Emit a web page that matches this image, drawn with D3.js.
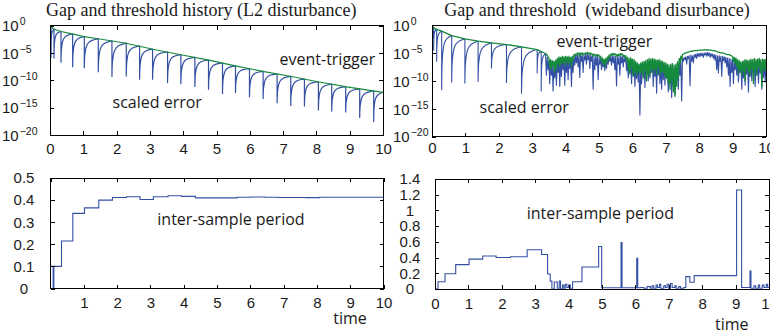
<!DOCTYPE html>
<html><head><meta charset="utf-8">
<script src="https://cdn.jsdelivr.net/npm/d3@7"></script>
<style>
body{margin:0;background:#fff;}
svg{display:block;}
.tk text{font-family:"Liberation Sans",Arial,sans-serif;font-size:15px;fill:#1a1a1a;}
.ann{font-family:"Open Sans",sans-serif;font-size:16px;fill:#1a1a1a;}
.ttl{font-family:"Liberation Serif","Times New Roman",serif;font-size:18px;fill:#1a1a1a;white-space:pre;}
</style></head><body>
<svg id="c" width="770" height="335"></svg>
<script>
// ---------------- DATA ----------------
const xTicks = [0,1,2,3,4,5,6,7,8,9,10];
const xTicksBL = [1,2,3,4,5,6,7,8,9,10];
const logTicks = [1,1e-5,1e-10,1e-15,1e-20];
const blYTicks = [0,0.1,0.2,0.3,0.4,0.5];
const brYTicks = [0,0.2,0.4,0.6,0.8,1,1.2,1.4];

// top-left: threshold (time, log10 value)
const tlThreshold = [[0,0.0],[0.1,-0.6],[0.33,-1.05],[0.67,-1.5],[1.02,-2.0],[1.45,-2.4],[2.28,-3.2],[3.09,-4.3],[3.93,-5.3],[4.77,-6.3],[5.6,-7.4],[6.43,-8.4],[7.25,-9.3],[8.08,-10.3],[8.91,-11.2],[10,-12.2]];
// top-left: event times and scaled error minimum (log10) right after each event
const tlEvents = [0.03,0.12,0.33,0.68,1.03,1.45,1.86,2.29,2.69,3.08,3.53,3.93,4.35,4.76,5.18,5.57,5.99,6.4,6.82,7.23,7.64,8.06,8.46,8.88,9.3,9.72];
const tlMins   = [-5.9,-6.0,-6.8,-7.6,-7.8,-8.5,-9.4,-9.3,-9.9,-9.9,-10.5,-10.7,-11.2,-11.7,-12.5,-12.3,-13.1,-13.4,-14.2,-14.7,-14.8,-15.5,-15.7,-15.9,-16.9,-17.6];
// tooth profile: [fraction of interval, fraction of depth]
const toothProfile = [[0,1],[0.01,0.78],[0.03,0.6],[0.07,0.46],[0.12,0.34],[0.2,0.24],[0.3,0.17],[0.42,0.12],[0.55,0.08],[0.7,0.05],[0.85,0.02],[1,0]];

// top-right, first phase (regular events)
const trThreshold = [[0,-0.2],[0.1,-0.7],[0.29,-1.1],[0.59,-1.9],[0.985,-2.5],[1.38,-2.9],[1.78,-3.2],[2.23,-3.5],[2.68,-3.9],[3.15,-4.4],[3.4,-5.1]];
const trEvents = [0.02,0.05,0.14,0.29,0.59,0.985,1.38,1.78,2.23,2.68,3.15,3.27];
const trMins   = [-2.5,-4.5,-6.5,-11.6,-10.2,-10.4,-10.1,-7.7,-10.3,-12.2,-8.6,-11.8];
const trPhase1End = 3.4;
// top-right, wideband part: bins of 0.05 from t=3.40, each with high and low reading (log10)
const trBinStart = 3.4, trBinStep = 0.05;
const trGreenHi = [-5.1,-5.4,-5.9,-6.2,-6.4,-6.5,-6.3,-6.0,-5.7,-5.8,-5.6,-5.7,-5.6,-5.7,-5.6,-5.8,-5.6,-5.3,-5.2,-5.0,-5.0,-5.0,-5.0,-5.1,-5.0,-4.9,-5.0,-5.0,-5.2,-5.2,-5.3,-5.3,-5.4,-5.6,-5.9,-6.1,-6.0,-5.7,-5.4,-5.2,-5.1,-5.1,-5.2,-5.3,-5.2,-5.1,-5.2,-5.4,-5.5,-5.8,-6.0,-5.9,-6.1,-6.2,-6.5,-6.8,-7.0,-6.8,-6.6,-6.5,-6.4,-6.2,-6.0,-6.1,-6.0,-6.1,-6.2,-6.3,-6.2,-6.4,-6.5,-6.7,-6.8,-7.0,-7.2,-7.0,-6.9,-7.2,-7.0,-6.6,-6.0,-5.6,-5.3,-5.1,-5.0,-4.9,-4.8,-4.7,-4.7,-4.6,-4.6,-4.6,-4.5,-4.5,-4.5,-4.4,-4.5,-4.4,-4.5,-4.5,-4.6,-4.6,-4.7,-4.8,-4.9,-5.0,-5.0,-5.1,-5.2,-5.3,-5.3,-5.5,-5.6,-5.8,-5.9,-6.2,-6.4,-6.6,-6.5,-6.3,-6.2,-6.4,-6.3,-6.1,-6.2,-6.0,-6.2,-6.1,-6.0,-6.2,-6.1,-6.2,-6.1];
const trGreenLo = [-5.3,-5.7,-7.5,-8.0,-7.2,-8.5,-7.8,-7.0,-7.5,-6.8,-6.8,-7.2,-6.5,-7.0,-6.6,-7.4,-6.4,-5.6,-5.4,-5.2,-5.6,-5.2,-5.3,-5.2,-5.2,-5.1,-5.3,-5.2,-5.6,-5.4,-5.6,-5.5,-5.8,-6.5,-7.0,-7.3,-6.8,-6.3,-5.7,-5.4,-5.4,-5.3,-5.6,-5.5,-5.5,-5.3,-5.6,-5.8,-6.4,-8.0,-8.8,-7.5,-9.2,-8.5,-9.0,-8.2,-8.8,-8.5,-9.5,-8.0,-10.0,-8.8,-9.0,-7.8,-8.5,-8.0,-8.8,-7.5,-9.0,-8.3,-8.6,-9.2,-9.5,-10.5,-11.5,-10.0,-12.0,-12.8,-11.0,-9.5,-7.0,-6.2,-5.2,-5.05,-4.95,-4.85,-4.75,-4.7,-4.65,-4.6,-4.6,-4.55,-4.5,-4.5,-4.45,-4.45,-4.45,-4.45,-4.5,-4.55,-4.6,-4.65,-4.75,-4.85,-4.95,-5.0,-5.05,-5.15,-5.25,-5.3,-5.4,-5.55,-6.5,-7.0,-7.5,-8.5,-8.0,-9.0,-8.2,-10.0,-7.6,-8.5,-9.0,-7.8,-10.5,-8.0,-8.9,-7.5,-8.2,-11.0,-7.8,-8.3,-8.0];
const trBlueHi = [-5.5,-5.8,-6.4,-6.6,-6.9,-7.0,-6.7,-6.5,-6.1,-6.3,-6.0,-6.2,-6.0,-6.1,-6.0,-6.3,-6.0,-5.7,-5.5,-5.3,-5.4,-5.3,-5.4,-5.4,-5.3,-5.2,-5.3,-5.4,-5.5,-5.6,-5.7,-5.6,-5.8,-6.0,-6.3,-6.5,-6.4,-6.1,-5.8,-5.6,-5.5,-5.5,-5.6,-5.7,-5.6,-5.5,-5.6,-5.8,-5.9,-6.3,-6.5,-6.4,-6.6,-6.7,-7.0,-7.3,-7.5,-7.3,-7.1,-7.0,-6.9,-6.7,-6.5,-6.6,-6.5,-6.6,-6.7,-6.8,-6.7,-6.9,-7.0,-7.2,-7.3,-7.6,-7.8,-7.6,-7.5,-7.8,-7.6,-7.2,-6.8,-6.4,-6.0,-5.8,-5.7,-5.6,-5.5,-5.4,-5.5,-5.3,-5.2,-5.1,-5.1,-5.0,-5.1,-5.0,-5.0,-4.9,-5.0,-5.1,-5.2,-5.3,-5.4,-5.5,-5.5,-5.6,-5.6,-5.7,-5.8,-5.9,-6.0,-6.1,-6.2,-6.4,-6.5,-6.8,-7.0,-7.2,-7.0,-6.8,-6.8,-7.0,-6.9,-6.7,-6.8,-6.6,-6.8,-6.7,-6.6,-6.8,-6.7,-6.8,-6.7];
const trBlueLo = [-9.0,-8.0,-10.5,-9.0,-11.8,-9.5,-10.8,-8.5,-11.0,-9.2,-8.0,-10.8,-8.5,-9.8,-7.8,-11.0,-8.5,-7.2,-6.8,-7.5,-9.4,-6.5,-8.5,-6.3,-7.0,-6.2,-7.8,-6.5,-11.5,-8.0,-7.2,-9.8,-7.0,-8.0,-7.5,-8.2,-7.8,-7.0,-6.5,-7.2,-6.8,-8.0,-10.9,-7.0,-9.0,-6.8,-7.5,-6.6,-8.2,-9.5,-8.5,-10.5,-9.0,-11.0,-9.6,-10.2,-16.1,-10.5,-9.0,-11.2,-8.8,-10.0,-9.5,-8.5,-11.0,-9.2,-12.2,-9.0,-10.5,-11.5,-9.8,-10.8,-9.5,-12.0,-10.5,-13.0,-11.0,-12.5,-10.0,-11.5,-9.0,-13.6,-6.5,-6.2,-7.0,-6.0,-10.9,-6.5,-6.8,-5.8,-6.0,-5.6,-5.7,-5.5,-5.8,-5.4,-5.6,-5.5,-5.8,-5.6,-6.0,-6.3,-8.0,-8.6,-6.5,-9.2,-6.4,-6.8,-7.5,-9.0,-11.0,-8.5,-10.5,-8.0,-9.0,-10.2,-8.5,-11.5,-9.5,-10.8,-8.8,-12.0,-9.2,-10.0,-8.5,-11.0,-9.0,-10.4,-8.6,-11.5,-9.4,-10.2,-8.8];

// bottom-left inter-sample period (value held from time[i] to time[i+1])
const blTimes  = [0,0.08,0.1,0.33,0.67,1.02,1.45,1.86,2.28,2.69,3.09,3.53,3.93,4.35,4.77,5.18,5.6,6.01,6.43,6.84,7.25,7.67,8.08,8.5,8.91,9.32,9.74,10];
const blValues = [0.1,0,0.1,0.215,0.34,0.365,0.40,0.412,0.415,0.403,0.415,0.42,0.417,0.41,0.41,0.41,0.413,0.414,0.413,0.412,0.412,0.411,0.413,0.413,0.413,0.413,0.413,0.413];
// bottom-right inter-sample period
const brTimes  = [0,0.09,0.3,0.62,1.02,1.43,1.83,2.26,2.76,3.19,3.37,3.45,3.5,3.57,3.66,3.72,3.76,3.82,3.86,3.9,3.95,4.0,4.05,4.12,4.4,4.9,4.99,5.57,5.6,6.04,6.07,6.15,6.25,6.35,6.45,6.5,6.55,6.62,6.66,6.72,6.76,6.85,6.9,6.95,7.0,7.05,7.1,7.18,7.22,7.3,7.35,7.45,7.51,7.63,7.76,9.03,9.18,9.43,9.46,9.55,9.6,9.68,9.72,9.8,9.85,9.92,9.96,10];
const brValues = [0,0.093,0.195,0.31,0.38,0.42,0.40,0.41,0.50,0.44,0.19,0.10,0.0,0.09,0.01,0.10,0.0,0.05,0.01,0.06,0.02,0.05,0.01,0.093,0.28,0.54,0.015,0.59,0.015,0.39,0.015,0.02,0.01,0.03,0.01,0.04,0.01,0.05,0.02,0.06,0.01,0.04,0.02,0.06,0.01,0.07,0.02,0.04,0.01,0.03,0.01,0.02,0.157,0.085,0.17,1.26,0.02,0.23,0.01,0.04,0.01,0.05,0.01,0.05,0.02,0.06,0.02,0.02];

const titleL = "Gap and threshold history (L2 disturbance)";
const titleR = "Gap and threshold  (wideband disurbance)";

// ---------------- DRAWING ----------------
const BLUE = "#3350a4", GREEN = "#168a3c";
const svg = d3.select("#c");

const tlX = d3.scaleLinear().domain([0,10]).range([50,383]);
const tlY = d3.scaleLog().domain([1e-20,1]).range([135,25.7]);
const trX = d3.scaleLinear().domain([0,10]).range([432,766]);
const trY = d3.scaleLog().domain([1e-20,1]).range([136.7,25]);
const blX = d3.scaleLinear().domain([0,10]).range([50.5,383.5]);
const blY = d3.scaleLinear().domain([0,0.5]).range([288.5,178]);
const brX = d3.scaleLinear().domain([0,10]).range([435,769]);
const brY = d3.scaleLinear().domain([0,1.4]).range([289,179]);

let clipId = 0;
function panel(x, y){
  const [x0,x1] = x.range(), [y0,y1] = y.range();
  const id = "clip"+(clipId++);
  svg.append("clipPath").attr("id",id).append("rect")
    .attr("x",x0).attr("y",y1).attr("width",x1-x0).attr("height",y0-y1);
  return svg.append("g").attr("clip-path",`url(#${id})`);
}
function frame(x, y, opts){
  const [x0,x1] = x.range(), [y0,y1] = y.range();
  const g = svg.append("g").attr("class","tk");
  g.append("g").attr("transform",`translate(0,${y0})`)
    .call(d3.axisBottom(x).tickValues(opts.xTicks).tickSize(-4).tickPadding(opts.xPad).tickSizeOuter(0));
  g.append("g").attr("transform",`translate(0,${y1})`)
    .call(d3.axisTop(x).tickValues(xTicks).tickSize(-4).tickFormat("").tickSizeOuter(0));
  const gl = g.append("g").attr("transform",`translate(${x0},0)`)
    .call(d3.axisLeft(y).tickValues(opts.yTicks).tickSize(-4).tickSizeOuter(0).tickFormat(opts.yFmt || null));
  g.append("g").attr("transform",`translate(${x1},0)`)
    .call(d3.axisRight(y).tickValues(opts.yTicks).tickSize(-4).tickFormat("").tickSizeOuter(0));
  g.selectAll(".domain").remove();
  g.selectAll(".tick line").attr("stroke","#000").attr("shape-rendering","crispEdges");
  g.selectAll(".tick text").attr("fill","#1a1a1a").attr("font-size",null).attr("font-family",null);
  g.append("rect").attr("x",x0).attr("y",y1).attr("width",x1-x0).attr("height",y0-y1)
    .attr("fill","none").attr("stroke","#000").attr("stroke-width",1).attr("shape-rendering","crispEdges");
  return gl;
}
function powLabels(gl, axisX, labelX){
  gl.selectAll(".tick text").each(function(d){
    const e = Math.round(Math.log10(d));
    const t = d3.select(this).text(null).attr("x", labelX-axisX).attr("text-anchor","start").attr("dy","0.35em");
    t.append("tspan").text("10");
    t.append("tspan").attr("dy",-6).attr("font-size","10.5px").attr("dx",1).text(e===0 ? "0" : "\u2212"+(-e));
  });
}
function thrAt(thr, t){
  const i = d3.bisector(d=>d[0]).right(thr, t);
  if(i<=0) return thr[0][1];
  if(i>=thr.length) return thr[thr.length-1][1];
  const a = thr[i-1], b = thr[i];
  return a[1] + (t-a[0])/(b[0]-a[0])*(b[1]-a[1]);
}
function teeth(events, mins, thr, tEnd){
  const pts = [[0, thrAt(thr,0)]];
  events.forEach((tk,k)=>{
    const tn = k+1<events.length ? events[k+1] : tEnd;
    const top = thrAt(thr,tk);
    pts.push([tk, top]);
    const depth = top - mins[k];
    toothProfile.forEach(([f,d])=>{
      const t = tk + f*(tn-tk);
      pts.push([t, thrAt(thr,t) - d*depth]);
    });
  });
  return pts;
}
function bins(hi, lo){
  const pts = [];
  hi.forEach((h,i)=>{
    const t = trBinStart + i*trBinStep;
    pts.push([t, h]); pts.push([t + trBinStep/2, lo[i]]);
  });
  return pts;
}

// ---- top-left ----
{
  const g = panel(tlX, tlY);
  const line = d3.line().x(d=>tlX(d[0])).y(d=>tlY(Math.pow(10,d[1])));
  g.append("path").attr("d", line(teeth(tlEvents, tlMins, tlThreshold, 10)))
    .attr("fill","none").attr("stroke",BLUE).attr("stroke-width",1.2);
  g.append("path").attr("d", line(tlThreshold))
    .attr("fill","none").attr("stroke",GREEN).attr("stroke-width",1.1);
  const gl = frame(tlX, tlY, {xTicks:xTicks, yTicks:logTicks, xPad:8});
  powLabels(gl, 50, 2);
}
// ---- top-right ----
{
  const g = panel(trX, trY);
  const line = d3.line().x(d=>trX(d[0])).y(d=>trY(Math.pow(10,d[1])));
  const blue = teeth(trEvents, trMins, trThreshold, trPhase1End).concat(bins(trBlueHi, trBlueLo));
  const green = trThreshold.concat(bins(trGreenHi, trGreenLo));
  g.append("path").attr("d", line(blue)).attr("fill","none").attr("stroke",BLUE).attr("stroke-width",1.1).attr("stroke-linejoin","round");
  g.append("path").attr("d", line(green)).attr("fill","none").attr("stroke",GREEN).attr("stroke-width",1.3).attr("stroke-linejoin","round");
  const gl = frame(trX, trY, {xTicks:xTicks, yTicks:logTicks, xPad:6});
  powLabels(gl, 432, 393);
}
// ---- bottom-left ----
{
  const g = panel(blX, blY);
  const line = d3.line().x(d=>blX(d[0])).y(d=>blY(d[1])).curve(d3.curveStepAfter);
  g.append("path").attr("d", line(blTimes.map((t,i)=>[t, blValues[i]])))
    .attr("fill","none").attr("stroke",BLUE).attr("stroke-width",1.1);
  const gl = frame(blX, blY, {xTicks:xTicksBL, yTicks:blYTicks, xPad:9, yFmt:d3.format("~g")});
  gl.selectAll(".tick text").attr("text-anchor","middle").attr("x",24-50.5);
}
// ---- bottom-right ----
{
  const g = panel(brX, brY);
  const line = d3.line().x(d=>brX(d[0])).y(d=>brY(d[1])).curve(d3.curveStepAfter);
  g.append("path").attr("d", line(brTimes.map((t,i)=>[t, brValues[i]])))
    .attr("fill","none").attr("stroke",BLUE).attr("stroke-width",1.1);
  const gl = frame(brX, brY, {xTicks:xTicks, yTicks:brYTicks, xPad:9, yFmt:d3.format("~g")});
  gl.selectAll(".tick text").attr("text-anchor","middle").attr("x",410-435);
}

// ---- texts ----
const ann = [
  ["event-trigger",279.5,65],["scaled error",112.5,107.5],
  ["event-trigger",556.5,46.5],["scaled error",479.5,112.7],
  ["inter-sample period",157.3,225],["inter-sample period",526.7,219.3],
  ["time",333.3,324],["time",715,329.5]
];
svg.selectAll("text.ann").data(ann).join("text").attr("class","ann")
  .attr("x",d=>d[1]).attr("y",d=>d[2]).text(d=>d[0]);
svg.append("text").attr("class","ttl").attr("x",46).attr("y",15.5).text(titleL);
svg.append("text").attr("class","ttl").attr("x",444.3).attr("y",15.5).text(titleR);
</script>
</body></html>
